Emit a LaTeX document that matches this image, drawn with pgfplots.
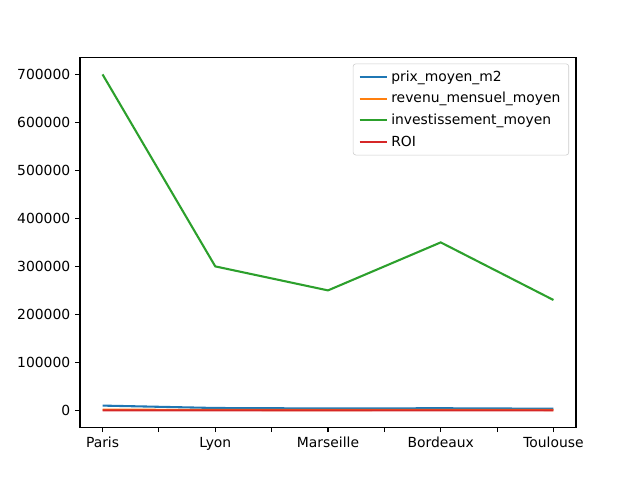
\documentclass[border=0pt]{standalone}
\usepackage{fontspec}
\setmainfont{DejaVu Sans}
\usepackage{pgfplots}
\pgfplotsset{compat=1.18}
\definecolor{c0}{HTML}{1F77B4}
\definecolor{c1}{HTML}{FF7F0E}
\definecolor{c2}{HTML}{2CA02C}
\definecolor{c3}{HTML}{D62728}
\begin{document}
\begin{tikzpicture}
\useasboundingbox (0,0) rectangle (460.8pt,345.6pt);
\begin{axis}[
  at={(57.6pt,38.016pt)}, anchor=south west,
  scale only axis, width=357.12pt, height=266.11pt,
  xmin=-0.2, xmax=4.2, ymin=-35000, ymax=735000,
  xtick={0,1,2,3,4},
  xticklabels={Paris,Lyon,Marseille,Bordeaux,Toulouse},
  minor xtick={0.5,1.5,2.5,3.5},
  ytick={0,100000,200000,300000,400000,500000,600000,700000},
  scaled y ticks=false,
  yticklabel style={/pgf/number format/fixed,/pgf/number format/1000 sep={}},
  /pgf/number format/assume math mode=true,
  tick align=outside, tick pos=left,
  major tick length=3.5pt, minor tick length=3.5pt,
  tick style={black, line width=0.8pt},
  axis line style={line width=0.8pt},
  ticklabel style={font=\fontsize{10}{12}\selectfont},
  legend style={at={(0.986,0.984)}, anchor=north east, draw=black!20,
    rounded corners=2pt, font=\fontsize{10}{12}\selectfont,
    inner xsep=4pt, inner ysep=3pt, row sep=2.5pt},
  legend cell align=left,
  legend image code/.code={\draw[#1] (0pt,0pt) -- (20pt,0pt);},
]
\addplot[c0, line width=1.5pt] coordinates {(0,10000) (1,5000) (2,4000) (3,4500) (4,3500)};
\addlegendentry{prix\_moyen\_m2}
\addplot[c1, line width=1.5pt] coordinates {(0,1500) (1,1000) (2,800) (3,1100) (4,900)};
\addlegendentry{revenu\_mensuel\_moyen}
\addplot[c2, line width=1.5pt] coordinates {(0,700000) (1,300000) (2,250000) (3,350000) (4,230000)};
\addlegendentry{investissement\_moyen}
\addplot[c3, line width=1.5pt] coordinates {(0,5) (1,4) (2,4) (3,4) (4,5)};
\addlegendentry{ROI}
\end{axis}
\end{tikzpicture}
\end{document}
